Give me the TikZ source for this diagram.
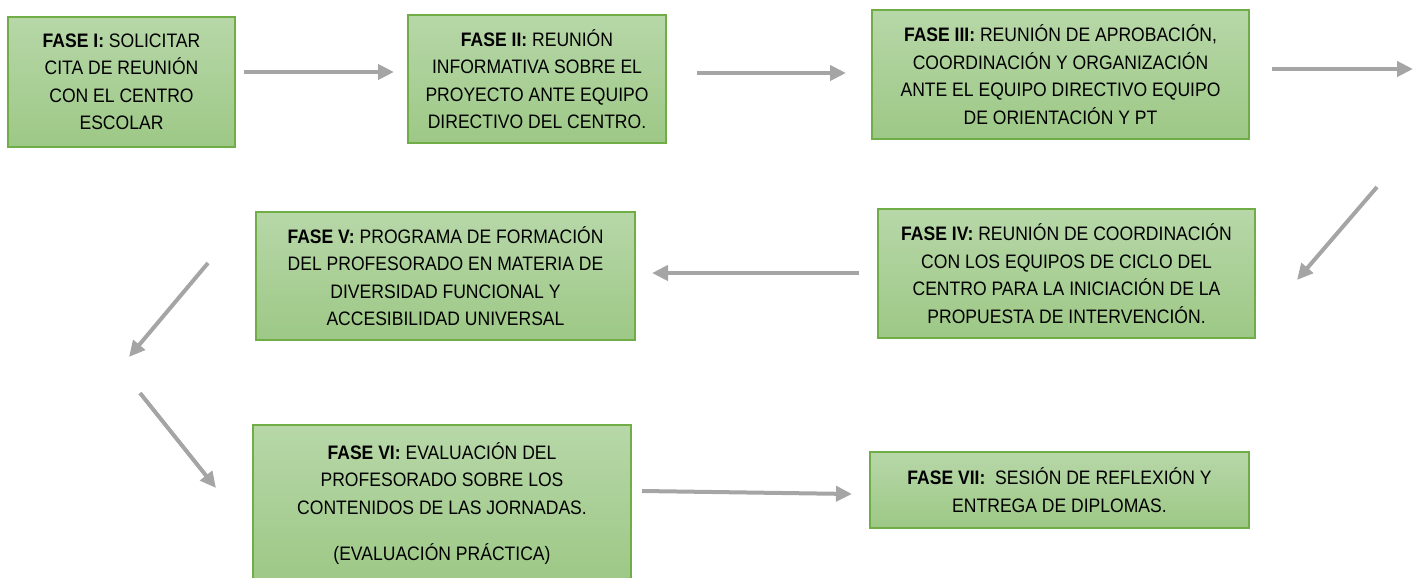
\documentclass[tikz,border=0pt]{standalone}
\usepackage{fontspec}
\setmainfont[FakeStretch=0.9]{Liberation Sans}
\usetikzlibrary{arrows.meta}
\definecolor{gtop}{HTML}{B7D7A8}
\definecolor{gbot}{HTML}{9DC886}
\definecolor{bordergreen}{HTML}{70AD47}
\definecolor{arrgray}{HTML}{A5A5A5}
\begin{document}
\begin{tikzpicture}[x=1pt,y=-1pt,
  phasebox/.style={draw=bordergreen, line width=1.2pt, top color=gtop, bottom color=gbot,
    align=center, inner sep=0pt, font=\fontsize{19.5}{27.5}\selectfont, text=black},
  flowarrow/.style={draw=arrgray, line width=4pt, -{Triangle[length=16pt,width=15pt]}}]
\clip (0,0) rectangle (1413,578);
\useasboundingbox (0,0) rectangle (1413,578);

\node[phasebox, minimum width=227pt, minimum height=130pt] (f1) at (121.5,82)
  {\textbf{FASE I:} SOLICITAR\\CITA DE REUNIÓN\\CON EL CENTRO\\ESCOLAR};
\node[phasebox, minimum width=258pt, minimum height=128pt] (f2) at (537,79)
  {\textbf{FASE II:} REUNIÓN\\INFORMATIVA SOBRE EL\\PROYECTO ANTE EQUIPO\\DIRECTIVO DEL CENTRO.};
\node[phasebox, minimum width=377pt, minimum height=129pt] (f3) at (1060.5,74.5)
  {\textbf{FASE III:} REUNIÓN DE APROBACIÓN,\\COORDINACIÓN Y ORGANIZACIÓN\\ANTE EL EQUIPO DIRECTIVO EQUIPO\\DE ORIENTACIÓN Y PT};
\node[phasebox, minimum width=377pt, minimum height=129pt] (f4) at (1066.5,273.5)
  {\textbf{FASE IV:} REUNIÓN DE COORDINACIÓN\\CON LOS EQUIPOS DE CICLO DEL\\CENTRO PARA LA INICIACIÓN DE LA\\PROPUESTA DE INTERVENCIÓN.};
\node[phasebox, minimum width=379pt, minimum height=128pt] (f5) at (445.5,276)
  {\textbf{FASE V:} PROGRAMA DE FORMACIÓN\\DEL PROFESORADO EN MATERIA DE\\DIVERSIDAD FUNCIONAL Y\\ACCESIBILIDAD UNIVERSAL};
\node[phasebox, minimum width=378pt, minimum height=157pt] (f6) at (442,503.5)
  {\textbf{FASE VI:} EVALUACIÓN DEL\\PROFESORADO SOBRE LOS\\CONTENIDOS DE LAS JORNADAS.\\[19pt](EVALUACIÓN PRÁCTICA)};
\node[phasebox, minimum width=379pt, minimum height=76pt] (f7) at (1059.5,490)
  {\textbf{FASE VII:}\ \ SESIÓN DE REFLEXIÓN Y\\ENTREGA DE DIPLOMAS.};

\coordinate (a1s) at (244,72);   \coordinate (a1e) at (394,72);
\coordinate (a2s) at (697,73);   \coordinate (a2e) at (846,73);
\coordinate (a3s) at (1272,69);  \coordinate (a3e) at (1413,69);
\coordinate (a4s) at (1377,187); \coordinate (a4e) at (1297,280);
\coordinate (a5s) at (859,273);  \coordinate (a5e) at (652,273);
\coordinate (a6s) at (208,263);  \coordinate (a6e) at (129,357);
\coordinate (a7s) at (140,393);  \coordinate (a7e) at (216,488);
\coordinate (a8s) at (642,491);  \coordinate (a8e) at (852,494);

\draw[flowarrow] (a1s) -- (a1e);
\draw[flowarrow] (a2s) -- (a2e);
\draw[flowarrow] (a3s) -- (a3e);
\draw[flowarrow] (a4s) -- (a4e);
\draw[flowarrow] (a5s) -- (a5e);
\draw[flowarrow] (a6s) -- (a6e);
\draw[flowarrow] (a7s) -- (a7e);
\draw[flowarrow] (a8s) -- (a8e);
\end{tikzpicture}
\end{document}
